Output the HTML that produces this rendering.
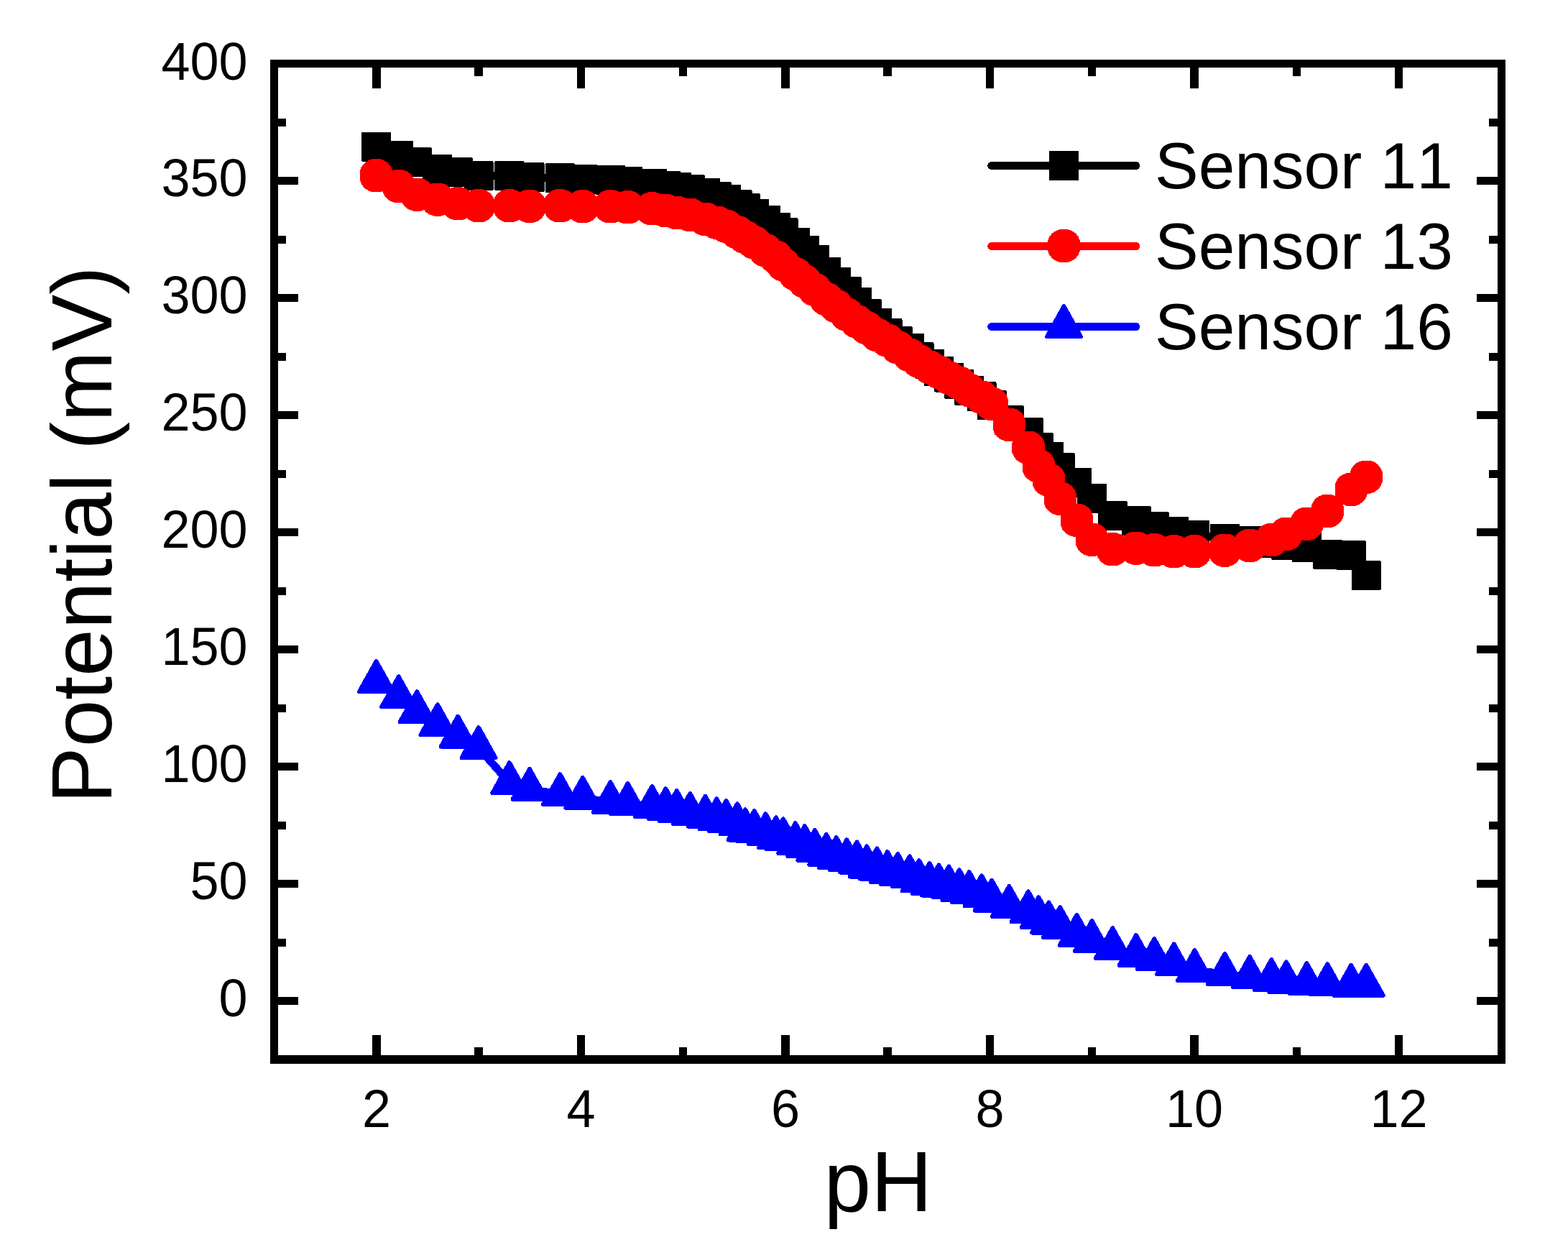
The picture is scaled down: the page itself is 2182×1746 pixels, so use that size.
<!DOCTYPE html>
<html lang="en"><head><meta charset="utf-8"><title>Potential vs pH</title>
<style>
html,body{margin:0;padding:0;background:#fff;}
body{width:2182px;height:1746px;overflow:hidden;}
svg{display:block;}
text{font-family:"Liberation Sans",sans-serif;fill:#000;font-kerning:none;white-space:pre;}
</style></head><body>
<svg width="2182" height="1746" viewBox="0 0 2182 1746">
<rect x="0" y="0" width="2182" height="1746" fill="#fff"/>
<g id="s11" fill="#000" stroke="none" shape-rendering="crispEdges">
<polyline points="523.6,204.1 554.7,216.2 580.2,225.7 608.9,235.2 637.2,239.4 666,244.7 708.9,244.7 737,246.5 779.4,247.7 810.9,249.3 849.4,250.5 873.6,252.6 907.4,255.1 926.4,258.5 941.8,260.5 960.3,263.4 981.5,268.5 997.3,273.4 1010.5,277.3 1026,284.5 1037.1,289.4 1049.7,297.5 1065.4,306.5 1079.8,316.3 1090,323.5 1106.9,337.6 1119.9,348.3 1133.9,361.5 1149.9,378.7 1163.8,392.6 1178.4,405.8 1192.5,420.6 1206.2,436.6 1220.4,449.6 1235,463.5 1249.3,474.7 1265.8,484.4 1279,496.5 1293.4,506 1306.4,516.4 1320.5,525 1334.9,534.7 1348.8,543.6 1366,551.7 1380.1,563.5 1404.3,584.6 1431,601.3 1445.3,622.6 1459.5,635.6 1475.2,650.7 1498.4,671.5 1519.5,693.6 1548.3,717.5 1581,724.4 1606.3,732.5 1633.6,739.7 1662.4,744.3 1704.4,749.1 1739.1,752.1 1769.3,755 1789.9,758.5 1818.5,761.5 1847.2,771 1880.1,772.5 1901.2,800.5" fill="none" stroke="#000" stroke-width="11" stroke-linejoin="round"/>
<path stroke="#000" stroke-width="3" stroke-linejoin="round" d="M504.6 185.1h38v38h-38zM535.7 197.2h38v38h-38zM561.2 206.7h38v38h-38zM589.9 216.2h38v38h-38zM618.2 220.4h38v38h-38zM647 225.7h38v38h-38zM689.9 225.7h38v38h-38zM718 227.5h38v38h-38zM760.4 228.7h38v38h-38zM791.9 230.3h38v38h-38zM830.4 231.5h38v38h-38zM854.6 233.6h38v38h-38zM888.4 236.1h38v38h-38zM907.4 239.5h38v38h-38zM922.8 241.5h38v38h-38zM941.3 244.4h38v38h-38zM962.5 249.5h38v38h-38zM978.3 254.4h38v38h-38zM991.5 258.3h38v38h-38zM1007 265.5h38v38h-38zM1018.1 270.4h38v38h-38zM1030.7 278.5h38v38h-38zM1046.4 287.5h38v38h-38zM1060.8 297.3h38v38h-38zM1071 304.5h38v38h-38zM1087.9 318.6h38v38h-38zM1100.9 329.3h38v38h-38zM1114.9 342.5h38v38h-38zM1130.9 359.7h38v38h-38zM1144.8 373.6h38v38h-38zM1159.4 386.8h38v38h-38zM1173.5 401.6h38v38h-38zM1187.2 417.6h38v38h-38zM1201.4 430.6h38v38h-38zM1216 444.5h38v38h-38zM1230.3 455.7h38v38h-38zM1246.8 465.4h38v38h-38zM1260 477.5h38v38h-38zM1274.4 487h38v38h-38zM1287.4 497.4h38v38h-38zM1301.5 506h38v38h-38zM1315.9 515.7h38v38h-38zM1329.8 524.6h38v38h-38zM1347 532.7h38v38h-38zM1361.1 544.5h38v38h-38zM1385.3 565.6h38v38h-38zM1412 582.3h38v38h-38zM1426.3 603.6h38v38h-38zM1440.5 616.6h38v38h-38zM1456.2 631.7h38v38h-38zM1479.4 652.5h38v38h-38zM1500.5 674.6h38v38h-38zM1529.3 698.5h38v38h-38zM1562 705.4h38v38h-38zM1587.3 713.5h38v38h-38zM1614.6 720.7h38v38h-38zM1643.4 725.3h38v38h-38zM1685.4 730.1h38v38h-38zM1720.1 733.1h38v38h-38zM1750.3 736h38v38h-38zM1770.9 739.5h38v38h-38zM1799.5 742.5h38v38h-38zM1828.2 752h38v38h-38zM1861.1 753.5h38v38h-38zM1882.2 781.5h38v38h-38z"/>
</g>
<g id="s13" fill="#f00" stroke="none" shape-rendering="crispEdges">
<polyline points="523.6,244.2 554.7,259 580.2,270.6 608.9,277.5 637.2,283.3 666,286.3 708.9,286.3 737,286.8 779.4,286.3 810.9,287.3 849.4,287.3 873.6,288.4 907.4,290.3 926.4,293.1 941.8,296 960.3,298.8 981.5,304.8 997.3,309.5 1010.5,314.6 1026,323.1 1037.1,329.9 1049.7,337.3 1065.4,348.4 1079.8,357.7 1090,368 1106.9,381.2 1119.9,391.6 1133.9,402.8 1149.9,416 1163.8,426 1178.4,437.5 1192.5,447.3 1206.2,456.1 1220.4,465.8 1235,473.5 1249.3,483.2 1265.8,494 1279,502.6 1293.4,510.8 1306.4,517.7 1320.5,525.8 1334.9,532.8 1348.8,542.9 1366,552.5 1380.1,561.8 1404.3,590.7 1431,622.7 1445.3,648.3 1459.5,667.5 1475.2,693.5 1498.4,723.6 1519.5,750.6 1548.3,764.2 1581,762.5 1606.3,765.2 1633.6,767.3 1662.4,767.2 1704.4,765.5 1739.1,759 1769.3,751.1 1789.9,742.8 1818.5,728.7 1847.2,711 1880.1,681 1901.2,663.7" fill="none" stroke="#f00" stroke-width="11" stroke-linejoin="round"/>
<path d="M518.3 221.2h10.6a23.6 23.6 0 0 1 17.3 16.2v13.6a23.6 23.6 0 0 1 -17.3 16.2h-10.6a23.6 23.6 0 0 1 -17.3 -16.2v-13.6a23.6 23.6 0 0 1 17.3 -16.2zM549.4 236h10.6a23.6 23.6 0 0 1 17.3 16.2v13.6a23.6 23.6 0 0 1 -17.3 16.2h-10.6a23.6 23.6 0 0 1 -17.3 -16.2v-13.6a23.6 23.6 0 0 1 17.3 -16.2zM574.9 247.6h10.6a23.6 23.6 0 0 1 17.3 16.2v13.6a23.6 23.6 0 0 1 -17.3 16.2h-10.6a23.6 23.6 0 0 1 -17.3 -16.2v-13.6a23.6 23.6 0 0 1 17.3 -16.2zM603.6 254.5h10.6a23.6 23.6 0 0 1 17.3 16.2v13.6a23.6 23.6 0 0 1 -17.3 16.2h-10.6a23.6 23.6 0 0 1 -17.3 -16.2v-13.6a23.6 23.6 0 0 1 17.3 -16.2zM631.9 260.3h10.6a23.6 23.6 0 0 1 17.3 16.2v13.6a23.6 23.6 0 0 1 -17.3 16.2h-10.6a23.6 23.6 0 0 1 -17.3 -16.2v-13.6a23.6 23.6 0 0 1 17.3 -16.2zM660.7 263.3h10.6a23.6 23.6 0 0 1 17.3 16.2v13.6a23.6 23.6 0 0 1 -17.3 16.2h-10.6a23.6 23.6 0 0 1 -17.3 -16.2v-13.6a23.6 23.6 0 0 1 17.3 -16.2zM703.6 263.3h10.6a23.6 23.6 0 0 1 17.3 16.2v13.6a23.6 23.6 0 0 1 -17.3 16.2h-10.6a23.6 23.6 0 0 1 -17.3 -16.2v-13.6a23.6 23.6 0 0 1 17.3 -16.2zM731.7 263.8h10.6a23.6 23.6 0 0 1 17.3 16.2v13.6a23.6 23.6 0 0 1 -17.3 16.2h-10.6a23.6 23.6 0 0 1 -17.3 -16.2v-13.6a23.6 23.6 0 0 1 17.3 -16.2zM774.1 263.3h10.6a23.6 23.6 0 0 1 17.3 16.2v13.6a23.6 23.6 0 0 1 -17.3 16.2h-10.6a23.6 23.6 0 0 1 -17.3 -16.2v-13.6a23.6 23.6 0 0 1 17.3 -16.2zM805.6 264.3h10.6a23.6 23.6 0 0 1 17.3 16.2v13.6a23.6 23.6 0 0 1 -17.3 16.2h-10.6a23.6 23.6 0 0 1 -17.3 -16.2v-13.6a23.6 23.6 0 0 1 17.3 -16.2zM844.1 264.3h10.6a23.6 23.6 0 0 1 17.3 16.2v13.6a23.6 23.6 0 0 1 -17.3 16.2h-10.6a23.6 23.6 0 0 1 -17.3 -16.2v-13.6a23.6 23.6 0 0 1 17.3 -16.2zM868.3 265.4h10.6a23.6 23.6 0 0 1 17.3 16.2v13.6a23.6 23.6 0 0 1 -17.3 16.2h-10.6a23.6 23.6 0 0 1 -17.3 -16.2v-13.6a23.6 23.6 0 0 1 17.3 -16.2zM902.1 267.3h10.6a23.6 23.6 0 0 1 17.3 16.2v13.6a23.6 23.6 0 0 1 -17.3 16.2h-10.6a23.6 23.6 0 0 1 -17.3 -16.2v-13.6a23.6 23.6 0 0 1 17.3 -16.2zM921.1 270.1h10.6a23.6 23.6 0 0 1 17.3 16.2v13.6a23.6 23.6 0 0 1 -17.3 16.2h-10.6a23.6 23.6 0 0 1 -17.3 -16.2v-13.6a23.6 23.6 0 0 1 17.3 -16.2zM936.5 273h10.6a23.6 23.6 0 0 1 17.3 16.2v13.6a23.6 23.6 0 0 1 -17.3 16.2h-10.6a23.6 23.6 0 0 1 -17.3 -16.2v-13.6a23.6 23.6 0 0 1 17.3 -16.2zM955 275.8h10.6a23.6 23.6 0 0 1 17.3 16.2v13.6a23.6 23.6 0 0 1 -17.3 16.2h-10.6a23.6 23.6 0 0 1 -17.3 -16.2v-13.6a23.6 23.6 0 0 1 17.3 -16.2zM976.2 281.8h10.6a23.6 23.6 0 0 1 17.3 16.2v13.6a23.6 23.6 0 0 1 -17.3 16.2h-10.6a23.6 23.6 0 0 1 -17.3 -16.2v-13.6a23.6 23.6 0 0 1 17.3 -16.2zM992 286.5h10.6a23.6 23.6 0 0 1 17.3 16.2v13.6a23.6 23.6 0 0 1 -17.3 16.2h-10.6a23.6 23.6 0 0 1 -17.3 -16.2v-13.6a23.6 23.6 0 0 1 17.3 -16.2zM1005.2 291.6h10.6a23.6 23.6 0 0 1 17.3 16.2v13.6a23.6 23.6 0 0 1 -17.3 16.2h-10.6a23.6 23.6 0 0 1 -17.3 -16.2v-13.6a23.6 23.6 0 0 1 17.3 -16.2zM1020.7 300.1h10.6a23.6 23.6 0 0 1 17.3 16.2v13.6a23.6 23.6 0 0 1 -17.3 16.2h-10.6a23.6 23.6 0 0 1 -17.3 -16.2v-13.6a23.6 23.6 0 0 1 17.3 -16.2zM1031.8 306.9h10.6a23.6 23.6 0 0 1 17.3 16.2v13.6a23.6 23.6 0 0 1 -17.3 16.2h-10.6a23.6 23.6 0 0 1 -17.3 -16.2v-13.6a23.6 23.6 0 0 1 17.3 -16.2zM1044.4 314.3h10.6a23.6 23.6 0 0 1 17.3 16.2v13.6a23.6 23.6 0 0 1 -17.3 16.2h-10.6a23.6 23.6 0 0 1 -17.3 -16.2v-13.6a23.6 23.6 0 0 1 17.3 -16.2zM1060.1 325.4h10.6a23.6 23.6 0 0 1 17.3 16.2v13.6a23.6 23.6 0 0 1 -17.3 16.2h-10.6a23.6 23.6 0 0 1 -17.3 -16.2v-13.6a23.6 23.6 0 0 1 17.3 -16.2zM1074.5 334.7h10.6a23.6 23.6 0 0 1 17.3 16.2v13.6a23.6 23.6 0 0 1 -17.3 16.2h-10.6a23.6 23.6 0 0 1 -17.3 -16.2v-13.6a23.6 23.6 0 0 1 17.3 -16.2zM1084.7 345h10.6a23.6 23.6 0 0 1 17.3 16.2v13.6a23.6 23.6 0 0 1 -17.3 16.2h-10.6a23.6 23.6 0 0 1 -17.3 -16.2v-13.6a23.6 23.6 0 0 1 17.3 -16.2zM1101.6 358.2h10.6a23.6 23.6 0 0 1 17.3 16.2v13.6a23.6 23.6 0 0 1 -17.3 16.2h-10.6a23.6 23.6 0 0 1 -17.3 -16.2v-13.6a23.6 23.6 0 0 1 17.3 -16.2zM1114.6 368.6h10.6a23.6 23.6 0 0 1 17.3 16.2v13.6a23.6 23.6 0 0 1 -17.3 16.2h-10.6a23.6 23.6 0 0 1 -17.3 -16.2v-13.6a23.6 23.6 0 0 1 17.3 -16.2zM1128.6 379.8h10.6a23.6 23.6 0 0 1 17.3 16.2v13.6a23.6 23.6 0 0 1 -17.3 16.2h-10.6a23.6 23.6 0 0 1 -17.3 -16.2v-13.6a23.6 23.6 0 0 1 17.3 -16.2zM1144.6 393h10.6a23.6 23.6 0 0 1 17.3 16.2v13.6a23.6 23.6 0 0 1 -17.3 16.2h-10.6a23.6 23.6 0 0 1 -17.3 -16.2v-13.6a23.6 23.6 0 0 1 17.3 -16.2zM1158.5 403h10.6a23.6 23.6 0 0 1 17.3 16.2v13.6a23.6 23.6 0 0 1 -17.3 16.2h-10.6a23.6 23.6 0 0 1 -17.3 -16.2v-13.6a23.6 23.6 0 0 1 17.3 -16.2zM1173.1 414.5h10.6a23.6 23.6 0 0 1 17.3 16.2v13.6a23.6 23.6 0 0 1 -17.3 16.2h-10.6a23.6 23.6 0 0 1 -17.3 -16.2v-13.6a23.6 23.6 0 0 1 17.3 -16.2zM1187.2 424.3h10.6a23.6 23.6 0 0 1 17.3 16.2v13.6a23.6 23.6 0 0 1 -17.3 16.2h-10.6a23.6 23.6 0 0 1 -17.3 -16.2v-13.6a23.6 23.6 0 0 1 17.3 -16.2zM1200.9 433.1h10.6a23.6 23.6 0 0 1 17.3 16.2v13.6a23.6 23.6 0 0 1 -17.3 16.2h-10.6a23.6 23.6 0 0 1 -17.3 -16.2v-13.6a23.6 23.6 0 0 1 17.3 -16.2zM1215.1 442.8h10.6a23.6 23.6 0 0 1 17.3 16.2v13.6a23.6 23.6 0 0 1 -17.3 16.2h-10.6a23.6 23.6 0 0 1 -17.3 -16.2v-13.6a23.6 23.6 0 0 1 17.3 -16.2zM1229.7 450.5h10.6a23.6 23.6 0 0 1 17.3 16.2v13.6a23.6 23.6 0 0 1 -17.3 16.2h-10.6a23.6 23.6 0 0 1 -17.3 -16.2v-13.6a23.6 23.6 0 0 1 17.3 -16.2zM1244 460.2h10.6a23.6 23.6 0 0 1 17.3 16.2v13.6a23.6 23.6 0 0 1 -17.3 16.2h-10.6a23.6 23.6 0 0 1 -17.3 -16.2v-13.6a23.6 23.6 0 0 1 17.3 -16.2zM1260.5 471h10.6a23.6 23.6 0 0 1 17.3 16.2v13.6a23.6 23.6 0 0 1 -17.3 16.2h-10.6a23.6 23.6 0 0 1 -17.3 -16.2v-13.6a23.6 23.6 0 0 1 17.3 -16.2zM1273.7 479.6h10.6a23.6 23.6 0 0 1 17.3 16.2v13.6a23.6 23.6 0 0 1 -17.3 16.2h-10.6a23.6 23.6 0 0 1 -17.3 -16.2v-13.6a23.6 23.6 0 0 1 17.3 -16.2zM1288.1 487.8h10.6a23.6 23.6 0 0 1 17.3 16.2v13.6a23.6 23.6 0 0 1 -17.3 16.2h-10.6a23.6 23.6 0 0 1 -17.3 -16.2v-13.6a23.6 23.6 0 0 1 17.3 -16.2zM1301.1 494.7h10.6a23.6 23.6 0 0 1 17.3 16.2v13.6a23.6 23.6 0 0 1 -17.3 16.2h-10.6a23.6 23.6 0 0 1 -17.3 -16.2v-13.6a23.6 23.6 0 0 1 17.3 -16.2zM1315.2 502.8h10.6a23.6 23.6 0 0 1 17.3 16.2v13.6a23.6 23.6 0 0 1 -17.3 16.2h-10.6a23.6 23.6 0 0 1 -17.3 -16.2v-13.6a23.6 23.6 0 0 1 17.3 -16.2zM1329.6 509.8h10.6a23.6 23.6 0 0 1 17.3 16.2v13.6a23.6 23.6 0 0 1 -17.3 16.2h-10.6a23.6 23.6 0 0 1 -17.3 -16.2v-13.6a23.6 23.6 0 0 1 17.3 -16.2zM1343.5 519.9h10.6a23.6 23.6 0 0 1 17.3 16.2v13.6a23.6 23.6 0 0 1 -17.3 16.2h-10.6a23.6 23.6 0 0 1 -17.3 -16.2v-13.6a23.6 23.6 0 0 1 17.3 -16.2zM1360.7 529.5h10.6a23.6 23.6 0 0 1 17.3 16.2v13.6a23.6 23.6 0 0 1 -17.3 16.2h-10.6a23.6 23.6 0 0 1 -17.3 -16.2v-13.6a23.6 23.6 0 0 1 17.3 -16.2zM1374.8 538.8h10.6a23.6 23.6 0 0 1 17.3 16.2v13.6a23.6 23.6 0 0 1 -17.3 16.2h-10.6a23.6 23.6 0 0 1 -17.3 -16.2v-13.6a23.6 23.6 0 0 1 17.3 -16.2zM1399 567.7h10.6a23.6 23.6 0 0 1 17.3 16.2v13.6a23.6 23.6 0 0 1 -17.3 16.2h-10.6a23.6 23.6 0 0 1 -17.3 -16.2v-13.6a23.6 23.6 0 0 1 17.3 -16.2zM1425.7 599.7h10.6a23.6 23.6 0 0 1 17.3 16.2v13.6a23.6 23.6 0 0 1 -17.3 16.2h-10.6a23.6 23.6 0 0 1 -17.3 -16.2v-13.6a23.6 23.6 0 0 1 17.3 -16.2zM1440 625.3h10.6a23.6 23.6 0 0 1 17.3 16.2v13.6a23.6 23.6 0 0 1 -17.3 16.2h-10.6a23.6 23.6 0 0 1 -17.3 -16.2v-13.6a23.6 23.6 0 0 1 17.3 -16.2zM1454.2 644.5h10.6a23.6 23.6 0 0 1 17.3 16.2v13.6a23.6 23.6 0 0 1 -17.3 16.2h-10.6a23.6 23.6 0 0 1 -17.3 -16.2v-13.6a23.6 23.6 0 0 1 17.3 -16.2zM1469.9 670.5h10.6a23.6 23.6 0 0 1 17.3 16.2v13.6a23.6 23.6 0 0 1 -17.3 16.2h-10.6a23.6 23.6 0 0 1 -17.3 -16.2v-13.6a23.6 23.6 0 0 1 17.3 -16.2zM1493.1 700.6h10.6a23.6 23.6 0 0 1 17.3 16.2v13.6a23.6 23.6 0 0 1 -17.3 16.2h-10.6a23.6 23.6 0 0 1 -17.3 -16.2v-13.6a23.6 23.6 0 0 1 17.3 -16.2zM1514.2 727.6h10.6a23.6 23.6 0 0 1 17.3 16.2v13.6a23.6 23.6 0 0 1 -17.3 16.2h-10.6a23.6 23.6 0 0 1 -17.3 -16.2v-13.6a23.6 23.6 0 0 1 17.3 -16.2zM1543 741.2h10.6a23.6 23.6 0 0 1 17.3 16.2v13.6a23.6 23.6 0 0 1 -17.3 16.2h-10.6a23.6 23.6 0 0 1 -17.3 -16.2v-13.6a23.6 23.6 0 0 1 17.3 -16.2zM1575.7 739.5h10.6a23.6 23.6 0 0 1 17.3 16.2v13.6a23.6 23.6 0 0 1 -17.3 16.2h-10.6a23.6 23.6 0 0 1 -17.3 -16.2v-13.6a23.6 23.6 0 0 1 17.3 -16.2zM1601 742.2h10.6a23.6 23.6 0 0 1 17.3 16.2v13.6a23.6 23.6 0 0 1 -17.3 16.2h-10.6a23.6 23.6 0 0 1 -17.3 -16.2v-13.6a23.6 23.6 0 0 1 17.3 -16.2zM1628.3 744.3h10.6a23.6 23.6 0 0 1 17.3 16.2v13.6a23.6 23.6 0 0 1 -17.3 16.2h-10.6a23.6 23.6 0 0 1 -17.3 -16.2v-13.6a23.6 23.6 0 0 1 17.3 -16.2zM1657.1 744.2h10.6a23.6 23.6 0 0 1 17.3 16.2v13.6a23.6 23.6 0 0 1 -17.3 16.2h-10.6a23.6 23.6 0 0 1 -17.3 -16.2v-13.6a23.6 23.6 0 0 1 17.3 -16.2zM1699.1 742.5h10.6a23.6 23.6 0 0 1 17.3 16.2v13.6a23.6 23.6 0 0 1 -17.3 16.2h-10.6a23.6 23.6 0 0 1 -17.3 -16.2v-13.6a23.6 23.6 0 0 1 17.3 -16.2zM1733.8 736h10.6a23.6 23.6 0 0 1 17.3 16.2v13.6a23.6 23.6 0 0 1 -17.3 16.2h-10.6a23.6 23.6 0 0 1 -17.3 -16.2v-13.6a23.6 23.6 0 0 1 17.3 -16.2zM1764 728.1h10.6a23.6 23.6 0 0 1 17.3 16.2v13.6a23.6 23.6 0 0 1 -17.3 16.2h-10.6a23.6 23.6 0 0 1 -17.3 -16.2v-13.6a23.6 23.6 0 0 1 17.3 -16.2zM1784.6 719.8h10.6a23.6 23.6 0 0 1 17.3 16.2v13.6a23.6 23.6 0 0 1 -17.3 16.2h-10.6a23.6 23.6 0 0 1 -17.3 -16.2v-13.6a23.6 23.6 0 0 1 17.3 -16.2zM1813.2 705.7h10.6a23.6 23.6 0 0 1 17.3 16.2v13.6a23.6 23.6 0 0 1 -17.3 16.2h-10.6a23.6 23.6 0 0 1 -17.3 -16.2v-13.6a23.6 23.6 0 0 1 17.3 -16.2zM1841.9 688h10.6a23.6 23.6 0 0 1 17.3 16.2v13.6a23.6 23.6 0 0 1 -17.3 16.2h-10.6a23.6 23.6 0 0 1 -17.3 -16.2v-13.6a23.6 23.6 0 0 1 17.3 -16.2zM1874.8 658h10.6a23.6 23.6 0 0 1 17.3 16.2v13.6a23.6 23.6 0 0 1 -17.3 16.2h-10.6a23.6 23.6 0 0 1 -17.3 -16.2v-13.6a23.6 23.6 0 0 1 17.3 -16.2zM1895.9 640.7h10.6a23.6 23.6 0 0 1 17.3 16.2v13.6a23.6 23.6 0 0 1 -17.3 16.2h-10.6a23.6 23.6 0 0 1 -17.3 -16.2v-13.6a23.6 23.6 0 0 1 17.3 -16.2z"/>
</g>
<g id="s16" fill="#00f" stroke="none" shape-rendering="crispEdges">
<polyline points="523.6,948.1 554.7,969.4 580.2,990.3 608.9,1008.4 637.2,1024.6 666,1040.2 708.9,1089.1 737,1097.9 779.4,1105.3 810.9,1110 849.4,1116.2 873.6,1118.1 907.4,1122 926.4,1125.3 941.8,1128.2 960.3,1132.1 981.5,1135.7 997.3,1139.4 1010.5,1142.2 1026,1146.3 1037.1,1154.5 1049.7,1156.1 1065.4,1160.3 1079.8,1165.4 1090,1167.4 1106.9,1173.2 1119.9,1177.2 1133.9,1183 1149.9,1189 1163.8,1193.2 1178.4,1196.4 1192.5,1199.5 1206.2,1205.5 1220.4,1208.5 1235,1213.1 1249.3,1216.1 1265.8,1219.4 1279,1225.2 1293.4,1229.1 1306.4,1231.5 1320.5,1233.5 1334.9,1238.4 1348.8,1241.2 1366,1246.3 1380.1,1252.6 1404.3,1260.9 1431,1268.4 1445.3,1276.3 1459.5,1283.5 1475.2,1290.2 1498.4,1300.9 1519.5,1309.2 1548.3,1319.2 1581,1329.1 1606.3,1334.2 1633.6,1341.4 1662.4,1350.2 1704.4,1355.1 1739.1,1359.1 1769.3,1363.2 1789.9,1366.3 1818.5,1368.3 1847.2,1369.3 1880.1,1370.9 1901.2,1370.9" fill="none" stroke="#00f" stroke-width="11" stroke-linejoin="round"/>
<path d="M523.6 920.1L547.1 962.1L500.1 962.1ZM554.7 941.4L578.2 983.4L531.2 983.4ZM580.2 962.3L603.7 1004.3L556.7 1004.3ZM608.9 980.4L632.4 1022.4L585.4 1022.4ZM637.2 996.6L660.7 1038.6L613.7 1038.6ZM666 1012.2L689.5 1054.2L642.5 1054.2ZM708.9 1061.1L732.4 1103.1L685.4 1103.1ZM737 1069.9L760.5 1111.9L713.5 1111.9ZM779.4 1077.3L802.9 1119.3L755.9 1119.3ZM810.9 1082L834.4 1124L787.4 1124ZM849.4 1088.2L872.9 1130.2L825.9 1130.2ZM873.6 1090.1L897.1 1132.1L850.1 1132.1ZM907.4 1094L930.9 1136L883.9 1136ZM926.4 1097.3L949.9 1139.3L902.9 1139.3ZM941.8 1100.2L965.3 1142.2L918.3 1142.2ZM960.3 1104.1L983.8 1146.1L936.8 1146.1ZM981.5 1107.7L1005 1149.7L958 1149.7ZM997.3 1111.4L1020.8 1153.4L973.8 1153.4ZM1010.5 1114.2L1034 1156.2L987 1156.2ZM1026 1118.3L1049.5 1160.3L1002.5 1160.3ZM1037.1 1126.5L1060.6 1168.5L1013.6 1168.5ZM1049.7 1128.1L1073.2 1170.1L1026.2 1170.1ZM1065.4 1132.3L1088.9 1174.3L1041.9 1174.3ZM1079.8 1137.4L1103.3 1179.4L1056.3 1179.4ZM1090 1139.4L1113.5 1181.4L1066.5 1181.4ZM1106.9 1145.2L1130.4 1187.2L1083.4 1187.2ZM1119.9 1149.2L1143.4 1191.2L1096.4 1191.2ZM1133.9 1155L1157.4 1197L1110.4 1197ZM1149.9 1161L1173.4 1203L1126.4 1203ZM1163.8 1165.2L1187.3 1207.2L1140.3 1207.2ZM1178.4 1168.4L1201.9 1210.4L1154.9 1210.4ZM1192.5 1171.5L1216 1213.5L1169 1213.5ZM1206.2 1177.5L1229.7 1219.5L1182.7 1219.5ZM1220.4 1180.5L1243.9 1222.5L1196.9 1222.5ZM1235 1185.1L1258.5 1227.1L1211.5 1227.1ZM1249.3 1188.1L1272.8 1230.1L1225.8 1230.1ZM1265.8 1191.4L1289.3 1233.4L1242.3 1233.4ZM1279 1197.2L1302.5 1239.2L1255.5 1239.2ZM1293.4 1201.1L1316.9 1243.1L1269.9 1243.1ZM1306.4 1203.5L1329.9 1245.5L1282.9 1245.5ZM1320.5 1205.5L1344 1247.5L1297 1247.5ZM1334.9 1210.4L1358.4 1252.4L1311.4 1252.4ZM1348.8 1213.2L1372.3 1255.2L1325.3 1255.2ZM1366 1218.3L1389.5 1260.3L1342.5 1260.3ZM1380.1 1224.6L1403.6 1266.6L1356.6 1266.6ZM1404.3 1232.9L1427.8 1274.9L1380.8 1274.9ZM1431 1240.4L1454.5 1282.4L1407.5 1282.4ZM1445.3 1248.3L1468.8 1290.3L1421.8 1290.3ZM1459.5 1255.5L1483 1297.5L1436 1297.5ZM1475.2 1262.2L1498.7 1304.2L1451.7 1304.2ZM1498.4 1272.9L1521.9 1314.9L1474.9 1314.9ZM1519.5 1281.2L1543 1323.2L1496 1323.2ZM1548.3 1291.2L1571.8 1333.2L1524.8 1333.2ZM1581 1301.1L1604.5 1343.1L1557.5 1343.1ZM1606.3 1306.2L1629.8 1348.2L1582.8 1348.2ZM1633.6 1313.4L1657.1 1355.4L1610.1 1355.4ZM1662.4 1322.2L1685.9 1364.2L1638.9 1364.2ZM1704.4 1327.1L1727.9 1369.1L1680.9 1369.1ZM1739.1 1331.1L1762.6 1373.1L1715.6 1373.1ZM1769.3 1335.2L1792.8 1377.2L1745.8 1377.2ZM1789.9 1338.3L1813.4 1380.3L1766.4 1380.3ZM1818.5 1340.3L1842 1382.3L1795 1382.3ZM1847.2 1341.3L1870.7 1383.3L1823.7 1383.3ZM1880.1 1342.9L1903.6 1384.9L1856.6 1384.9ZM1901.2 1342.9L1924.7 1384.9L1877.7 1384.9Z" stroke="#00f" stroke-width="6" stroke-linejoin="round"/>
</g>
<g id="axes" fill="#000" stroke="none" shape-rendering="crispEdges">
<path fill-rule="evenodd" d="M376 83H2095V1480H376ZM387 94V1468H2084V94Z"/>
<path d="M518 1440H530V1468H518ZM518 94H530V123H518ZM660 1457H672V1468H660ZM660 94H672V106H660ZM803 1440H814V1468H803ZM803 94H814V123H803ZM945 1457H956V1468H945ZM945 94H956V106H945ZM1087 1440H1099V1468H1087ZM1087 94H1099V123H1087ZM1229 1457H1241V1468H1229ZM1229 94H1241V106H1229ZM1372 1440H1383V1468H1372ZM1372 94H1383V123H1372ZM1514 1457H1525V1468H1514ZM1514 94H1525V106H1514ZM1656 1440H1668V1468H1656ZM1656 94H1668V123H1656ZM1799 1457H1810V1468H1799ZM1799 94H1810V106H1799ZM1941 1440H1952V1468H1941ZM1941 94H1952V123H1941ZM387 1387H415V1398H387ZM2055 1387H2084V1398H2055ZM387 1306H398V1317H387ZM2072 1306H2084V1317H2072ZM387 1224H415V1235H387ZM2055 1224H2084V1235H2055ZM387 1143H398V1154H387ZM2072 1143H2084V1154H2072ZM387 1061H415V1072H387ZM2055 1061H2084V1072H2055ZM387 980H398V991H387ZM2072 980H2084V991H2072ZM387 898H415V909H387ZM2055 898H2084V909H2055ZM387 817H398V828H387ZM2072 817H2084V828H2072ZM387 735H415V746H387ZM2055 735H2084V746H2055ZM387 654H398V665H387ZM2072 654H2084V665H2072ZM387 572H415V583H387ZM2055 572H2084V583H2055ZM387 491H398V502H387ZM2072 491H2084V502H2072ZM387 409H415V420H387ZM2055 409H2084V420H2055ZM387 328H398V339H387ZM2072 328H2084V339H2072ZM387 246H415V257H387ZM2055 246H2084V257H2055ZM387 165H398V176H387ZM2072 165H2084V176H2072Z"/>
</g>
<g id="ylabels">
<text font-size="74.5" x="304.56" y="1414.00" textLength="40.04" lengthAdjust="spacingAndGlyphs">0</text>
<text font-size="74.5" x="264.51" y="1251.07" textLength="80.09" lengthAdjust="spacingAndGlyphs">50</text>
<text font-size="74.5" x="224.47" y="1088.13" textLength="120.13" lengthAdjust="spacingAndGlyphs">100</text>
<text font-size="74.5" x="224.47" y="925.19" textLength="120.13" lengthAdjust="spacingAndGlyphs">150</text>
<text font-size="74.5" x="224.47" y="762.26" textLength="120.13" lengthAdjust="spacingAndGlyphs">200</text>
<text font-size="74.5" x="224.47" y="599.32" textLength="120.13" lengthAdjust="spacingAndGlyphs">250</text>
<text font-size="74.5" x="224.47" y="436.39" textLength="120.13" lengthAdjust="spacingAndGlyphs">300</text>
<text font-size="74.5" x="224.47" y="273.45" textLength="120.13" lengthAdjust="spacingAndGlyphs">350</text>
<text font-size="74.5" x="224.47" y="110.52" textLength="120.13" lengthAdjust="spacingAndGlyphs">400</text>
</g>
<g id="xlabels">
<text font-size="74.5" x="503.98" y="1568.00" textLength="40.04" lengthAdjust="spacingAndGlyphs">2</text>
<text font-size="74.5" x="788.48" y="1568.00" textLength="40.04" lengthAdjust="spacingAndGlyphs">4</text>
<text font-size="74.5" x="1072.98" y="1568.00" textLength="40.04" lengthAdjust="spacingAndGlyphs">6</text>
<text font-size="74.5" x="1357.48" y="1568.00" textLength="40.04" lengthAdjust="spacingAndGlyphs">8</text>
<text font-size="74.5" x="1621.96" y="1568.00" textLength="80.09" lengthAdjust="spacingAndGlyphs">10</text>
<text font-size="74.5" x="1906.46" y="1568.00" textLength="80.09" lengthAdjust="spacingAndGlyphs">12</text>
</g>
<text font-size="118" x="1146.40" y="1685.00">pH</text>
<g transform="translate(155 1118) rotate(-90)">
<text font-size="118" x="0.00" y="0.00">Potential (mV)</text>
</g>
<g id="legend" shape-rendering="crispEdges">
<line x1="1379.8" y1="230.5" x2="1581" y2="230.5" stroke="#000" stroke-width="11" stroke-linecap="round"/>
<rect x="1461.5" y="211.5" width="38" height="38" fill="#000" stroke="#000" stroke-width="3" stroke-linejoin="round"/>
<text font-size="91" x="1607.00" y="262.00">Sensor 11</text>
<line x1="1379.8" y1="342.5" x2="1581" y2="342.5" stroke="#f00" stroke-width="11" stroke-linecap="round"/>
<path d="M1475.2 319h10.6a23.6 23.6 0 0 1 17.3 16.2v13.6a23.6 23.6 0 0 1 -17.3 16.2h-10.6a23.6 23.6 0 0 1 -17.3 -16.2v-13.6a23.6 23.6 0 0 1 17.3 -16.2z" fill="#f00"/>
<text font-size="91" x="1607.00" y="374.00">Sensor 13</text>
<line x1="1379.8" y1="454.5" x2="1581" y2="454.5" stroke="#00f" stroke-width="11" stroke-linecap="round"/>
<path d="M1480.5 426.3L1504 468.3L1457 468.3Z" fill="#00f" stroke="#00f" stroke-width="6" stroke-linejoin="round"/>
<text font-size="91" x="1607.00" y="486.00">Sensor 16</text>
</g>
</svg>
</body></html>
